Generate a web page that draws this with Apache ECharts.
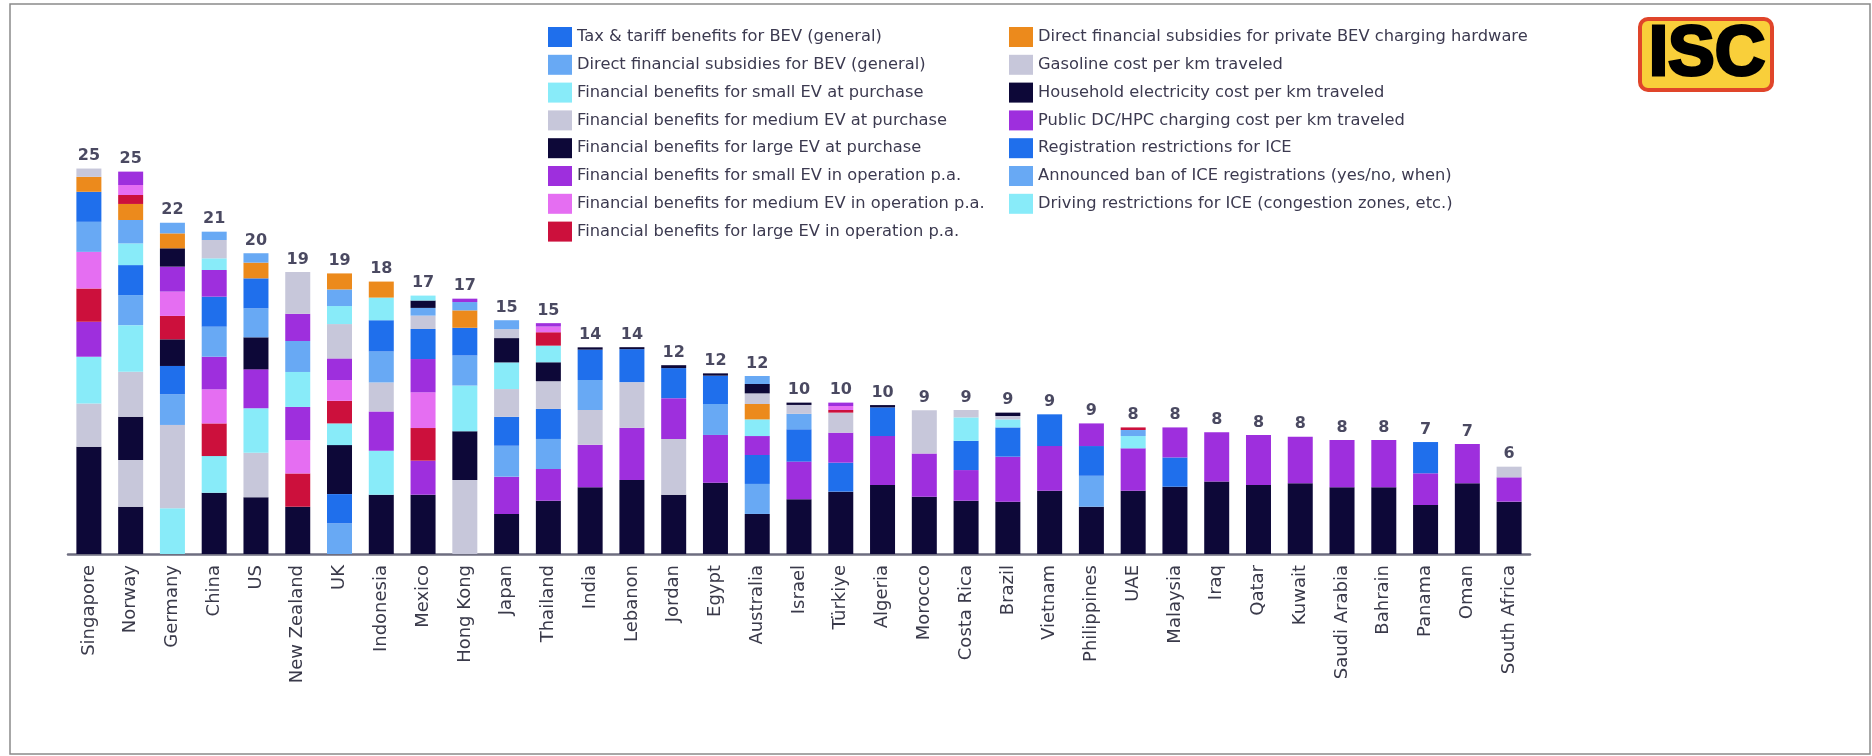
<!DOCTYPE html>
<html>
<head>
<meta charset="utf-8">
<script src="https://cdn.jsdelivr.net/npm/echarts@6/dist/echarts.min.js"></script>
<style>
html,body{margin:0;padding:0;background:#fff;}
#chart{width:1872px;height:756px;}
</style>
</head>
<body>
<div id="chart"></div>
<script>
const categories = ["Singapore","Norway","Germany","China","US","New Zealand","UK","Indonesia","Mexico","Hong Kong","Japan","Thailand","India","Lebanon","Jordan","Egypt","Australia","Israel","Türkiye","Algeria","Morocco","Costa Rica","Brazil","Vietnam","Philippines","UAE","Malaysia","Iraq","Qatar","Kuwait","Saudi Arabia","Bahrain","Panama","Oman","South Africa"];

const seriesNames = [
  "Tax & tariff benefits for BEV (general)",
  "Direct financial subsidies for BEV (general)",
  "Financial benefits for small EV at purchase",
  "Financial benefits for medium EV at purchase",
  "Financial benefits for large EV at purchase",
  "Financial benefits for small EV in operation p.a.",
  "Financial benefits for medium EV in operation p.a.",
  "Financial benefits for large EV in operation p.a.",
  "Direct financial subsidies for private BEV charging hardware",
  "Gasoline cost per km traveled",
  "Household electricity cost per km traveled",
  "Public DC/HPC charging cost per km traveled",
  "Registration restrictions for ICE",
  "Announced ban of ICE registrations (yes/no, when)",
  "Driving restrictions for ICE (congestion zones, etc.)"
];

const totalLabels = [25,25,22,21,20,19,19,18,17,17,15,15,14,14,12,12,12,10,10,10,9,9,9,9,9,8,8,8,8,8,8,8,7,7,6];

// Segments per country, bottom to top: [series index, value]
const singapore = [[10,6.97],[9,2.81],[2,3.03],[5,2.27],[7,2.16],[6,2.38],[1,1.95],[0,1.95],[8,0.97],[3,0.54]];
const norway = [[10,3.07],[9,3.03],[4,2.81],[3,2.92],[2,3.03],[1,1.95],[0,1.95],[14,1.41],[13,1.52],[8,1.04],[7,0.58],[6,0.65],[5,0.87]];
const germany = [[2,2.97],[3,5.41],[1,1.99],[0,1.84],[4,1.73],[7,1.52],[6,1.58],[5,1.62],[10,1.19],[8,0.97],[13,0.69]];
const china = [[10,3.98],[2,2.38],[7,2.12],[6,2.21],[5,2.12],[1,1.95],[0,1.95],[11,1.73],[14,0.76],[9,1.19],[13,0.54]];
const us = [[10,3.68],[9,2.90],[2,2.88],[5,2.53],[4,2.08],[1,1.88],[0,1.95],[8,1.02],[13,0.61]];
const newZealand = [[10,3.07],[7,2.16],[6,2.16],[5,2.16],[2,2.27],[1,2.01],[11,1.77],[9,2.71]];
const uk = [[13,1.99],[12,1.90],[10,3.18],[2,1.41],[7,1.47],[6,1.34],[5,1.41],[9,2.23],[14,1.17],[1,1.08],[8,1.04]];
const indonesia = [[10,3.85],[2,2.86],[5,2.55],[9,1.88],[1,2.01],[0,2.03],[14,1.47],[8,1.04]];
const mexico = [[10,3.85],[11,2.21],[7,2.12],[6,2.32],[5,2.16],[0,1.95],[9,0.87],[1,0.50],[4,0.48],[14,0.32]];
const hongKong = [[9,4.81],[4,3.16],[2,2.97],[1,1.95],[0,1.80],[8,1.13],[13,0.54],[11,0.22]];
const japan = [[10,2.60],[11,2.42],[1,2.01],[0,1.88],[9,1.80],[2,1.73],[4,1.58],[3,0.58],[13,0.58]];
const thailand = [[10,3.46],[11,2.06],[1,1.95],[0,1.95],[9,1.80],[4,1.23],[2,1.08],[7,0.87],[6,0.37],[5,0.22]];
const india = [[10,4.33],[11,2.77],[9,2.25],[1,1.95],[0,1.97],[4,0.15]];
const lebanon = [[10,4.81],[11,3.38],[9,2.97],[0,2.14],[4,0.13]];
const jordan = [[10,3.85],[9,3.61],[11,2.66],[0,1.95],[4,0.19]];
const egypt = [[10,4.63],[11,3.10],[1,2.01],[0,1.84],[4,0.15]];
const australia = [[10,2.60],[1,1.95],[0,1.88],[11,1.23],[2,1.08],[8,1.00],[9,0.69],[4,0.61],[13,0.52]];
const israel = [[10,3.55],[11,2.45],[0,2.10],[1,1.00],[9,0.58],[4,0.15]];
const turkiye = [[10,4.05],[0,1.88],[11,1.95],[9,1.30],[7,0.17],[6,0.26],[5,0.22]];
const algeria = [[10,4.48],[11,3.18],[0,1.86],[4,0.15]];
const morocco = [[10,3.72],[11,2.81],[9,2.81]];
const costaRica = [[10,3.46],[11,1.99],[0,1.90],[2,1.52],[9,0.48]];
const brazil = [[10,3.40],[11,2.92],[0,1.90],[2,0.52],[9,0.22],[4,0.22]];
const vietnam = [[10,4.11],[11,2.90],[12,2.06]];
const philippines = [[10,3.07],[1,2.01],[0,1.93],[11,1.47]];
const uae = [[10,4.11],[11,2.75],[2,0.80],[1,0.39],[7,0.17]];
const malaysia = [[10,4.37],[12,1.90],[11,1.95]];
const iraq = [[10,4.70],[11,3.20]];
const qatar = [[10,4.48],[11,3.25]];
const kuwait = [[10,4.59],[11,3.03]];
const saudiArabia = [[10,4.33],[11,3.07]];
const bahrain = [[10,4.33],[11,3.07]];
const panama = [[10,3.18],[11,2.06],[12,2.03]];
const oman = [[10,4.59],[11,2.55]];
const southAfrica = [[10,3.40],[11,1.58],[9,0.69]];

const stacks = [singapore,norway,germany,china,us,newZealand,uk,indonesia,mexico,hongKong,japan,thailand,india,lebanon,jordan,egypt,australia,israel,turkiye,algeria,morocco,costaRica,brazil,vietnam,philippines,uae,malaysia,iraq,qatar,kuwait,saudiArabia,bahrain,panama,oman,southAfrica];

// styles
const palette = ["#1f6fec","#68a9f4","#88ebf9","#c7c7da","#0d0838","#9e2fdd","#e56ef2","#cc103c","#ec8a1c","#c7c7da","#0d0838","#9e2fdd","#1f6fec","#68a9f4","#88ebf9"];
const FONT = "DejaVu Sans";

const chart = echarts.init(document.getElementById('chart'), null, {renderer:'canvas'});

const maxLayers = Math.max(...stacks.map(s => s.length));
const series = [];
seriesNames.forEach((n, i) => {
  series.push({name: n, type: 'bar', stack: 'total', barWidth: 25, data: [], itemStyle: {color: palette[i]}});
});
for (let k = 0; k < maxLayers; k++) {
  series.push({
    name: 'layer' + k, type: 'bar', stack: 'total', barWidth: 25, silent: true,
    data: stacks.map(s => s[k] ? {value: s[k][1], itemStyle: {color: palette[s[k][0]]}} : {value: 0, itemStyle: {color: 'rgba(0,0,0,0)'}})
  });
}
series.push({
  name: 'totals', type: 'scatter', symbolSize: 1, itemStyle: {color: 'rgba(0,0,0,0)'}, silent: true,
  data: stacks.map((s, i) => [i, s.reduce((a, b) => a + b[1], 0)]),
  label: {show: true, position: 'top', distance: 4, formatter: p => String(totalLabels[p.dataIndex]),
          fontFamily: FONT, fontWeight: 'bold', fontSize: 16, color: '#1d1b3a'}
});

const legendText = {fontFamily: FONT, fontSize: 16.3, color: '#3c3a50'};
chart.setOption({
  animation: false,
  backgroundColor: '#ffffff',
  grid: {left: 68, right: 342, top: 92, bottom: 202},
  legend: [
    {data: seriesNames.slice(0, 8), orient: 'vertical', left: 543, top: 22, itemWidth: 24, itemHeight: 20, itemGap: 7.8, icon: 'rect', textStyle: legendText, selectedMode: false},
    {data: seriesNames.slice(8), orient: 'vertical', left: 1004, top: 22, itemWidth: 24, itemHeight: 20, itemGap: 7.8, icon: 'rect', textStyle: legendText, selectedMode: false}
  ],
  xAxis: {
    type: 'category', data: categories,
    axisTick: {show: false},
    axisLine: {lineStyle: {color: '#6e6e80', width: 2.5}},
    axisLabel: {rotate: 90, interval: 0, margin: 11, fontFamily: FONT, fontSize: 18, color: '#3a3a4a'}
  },
  yAxis: {type: 'value', min: 0, max: 30, show: false, splitLine: {show: false}},
  series: series,
  graphic: [
    {type: 'rect', shape: {x: 10, y: 4, width: 1860, height: 750}, style: {fill: 'none', stroke: '#8a8a8a', lineWidth: 1.5}, silent: true},
    {type: 'rect', shape: {x: 1640, y: 19, width: 132, height: 71, r: 8}, style: {fill: '#f9cf3a', stroke: '#e0452a', lineWidth: 4}, silent: true},
    {type: 'text', x: 1707, y: 56, style: {text: 'ISC', fill: '#000', stroke: '#000', lineWidth: 3, font: 'bold 70px "Liberation Sans"', align: 'center', verticalAlign: 'middle'}, silent: true}
  ]
});
</script>
</body>
</html>
